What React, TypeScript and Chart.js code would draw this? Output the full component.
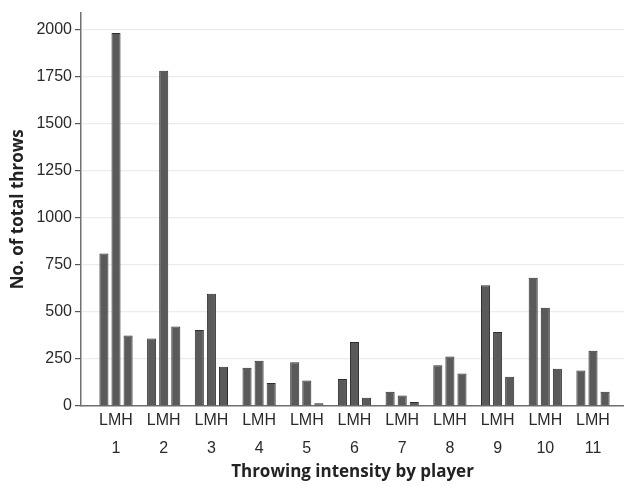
import React, { useEffect, useRef } from "react";
import { Chart, registerables } from "chart.js";

Chart.register(...registerables);

const players = [1, 2, 3, 4, 5, 6, 7, 8, 9, 10, 11];
const lowThrows = [810, 358, 404, 203, 233, 143, 76, 217, 642, 682, 189];
const mediumThrows = [1982, 1781, 596, 240, 136, 340, 56, 263, 393, 522, 293];
const highThrows = [374, 423, 208, 122, 14, 44, 21, 173, 155, 198, 76];
const yTicks = [0, 250, 500, 750, 1000, 1250, 1500, 1750, 2000];
const intensityLabel = "LMH";

export default function App() {
  const ref = useRef<HTMLCanvasElement | null>(null);
  useEffect(() => {
    if (!ref.current) return;
    const mk = (label: string, vals: number[]) => ({
      label,
      data: players.map((p, i) => ({ x: p, y: vals[i] })),
      backgroundColor: "#5a5a5a",
      borderColor: "#2e2e2e",
      borderWidth: 1,
      categoryPercentage: 0.76,
      barPercentage: 0.75,
    });
    const chart = new Chart(ref.current, {
      type: "bar",
      data: {
        datasets: [mk("L", lowThrows), mk("M", mediumThrows), mk("H", highThrows)],
      },
      options: {
        animation: false,
        responsive: false,
        layout: { padding: { top: 10, right: 0, left: 0, bottom: 4 } },
        plugins: { legend: { display: false }, tooltip: { enabled: false } },
        scales: {
          x: {
            type: "linear",
            offset: false,
            min: 0.266,
            max: 11.65,
            afterBuildTicks: (axis: any) => {
              axis.ticks = players.map((v) => ({ value: v }));
            },
            grid: { display: false, drawTicks: false },
            border: { display: true, color: "#707070", width: 1.5 },
            ticks: {
              autoSkip: false,
              maxRotation: 0,
              padding: 1,
              color: "#2a2a2a",
              font: { family: "Liberation Sans, Arial", size: 16, lineHeight: 1.75 },
              callback: (v: any) => [intensityLabel, String(v)],
            },
            title: {
              display: true,
              text: "Throwing intensity by player",
              color: "#222",
              font: { family: "Open Sans", size: 17, weight: "bold", lineHeight: 1 },
              padding: { top: 0, bottom: 0 },
            },
          },
          y: {
            min: 0,
            max: 2090,
            afterBuildTicks: (axis: any) => {
              axis.ticks = yTicks.map((v) => ({ value: v }));
            },
            afterFit: (axis: any) => {
              axis.width = 81;
            },
            grid: {
              color: "#ececec",
              lineWidth: 1.2,
              tickColor: "#555",
              tickLength: 6,
            },
            border: { display: true, color: "#707070", width: 1.5 },
            ticks: {
              padding: 3,
              color: "#2a2a2a",
              font: { family: "Liberation Sans, Arial", size: 16 },
              callback: (v: any) => String(v),
            },
            title: {
              display: true,
              text: "No. of total throws",
              color: "#222",
              font: { family: "Open Sans", size: 17, weight: "bold" },
              padding: { top: 8, bottom: 0 },
            },
          },
        },
      },
    } as any);
    return () => chart.destroy();
  }, []);
  return (
    <div style={{ position: "absolute", left: 0, top: 0, width: 624, height: 485, background: "#fff" }}>
      <canvas ref={ref} width={624} height={485} style={{ display: "block" }} />
    </div>
  );
}
